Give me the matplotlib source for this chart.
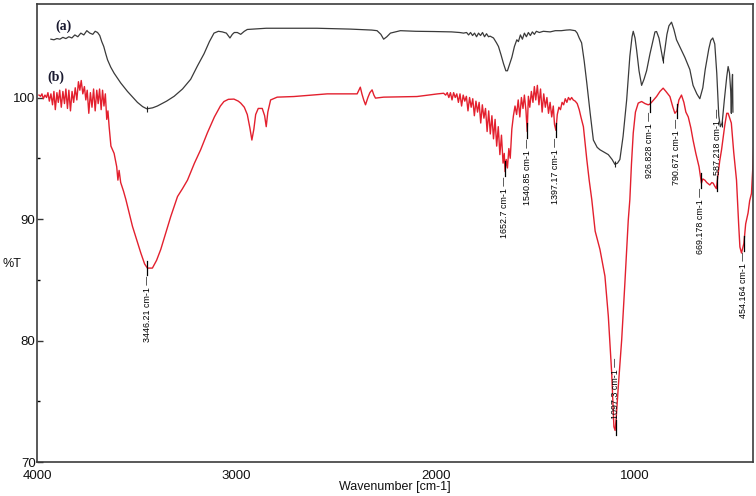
import matplotlib
matplotlib.use("Agg")
import matplotlib.pyplot as plt
import numpy as np

# ---------------- data ----------------
# spectrum (a) : wavenumber, %T
a_wn = [3930, 3915, 3900, 3885, 3870, 3855, 3840, 3825, 3810, 3795, 3780, 3765, 3750, 3735,
        3720, 3708, 3696, 3685, 3675, 3665, 3655, 3646, 3630, 3613, 3580, 3546, 3496, 3470,
        3449, 3420, 3396, 3350, 3312, 3270, 3229, 3195, 3162, 3135, 3112, 3090, 3070, 3050,
        3032, 3020, 3010, 2995, 2978, 2960, 2945, 2900, 2850, 2762, 2595, 2428, 2320, 2294,
        2275, 2261, 2245, 2227, 2177, 2100, 2010, 1920, 1880, 1860, 1845, 1835, 1825, 1815,
        1805, 1795, 1785, 1775, 1765, 1755, 1745, 1735, 1727, 1710, 1695, 1685, 1672, 1660,
        1648, 1640, 1630, 1618, 1605, 1593, 1585, 1575, 1565, 1555, 1545, 1535, 1525, 1515,
        1505, 1495, 1480, 1460, 1426, 1400, 1370, 1345, 1326, 1300, 1290, 1280, 1268, 1255,
        1242, 1225, 1209, 1190, 1176, 1155, 1134, 1115, 1101, 1088, 1076, 1060, 1042, 1026,
        1015, 1009, 1000, 992, 980, 967, 955, 942, 925, 909, 900, 892, 880, 870, 859, 850,
        840, 830, 817, 805, 792, 770, 750, 725, 709, 690, 675, 660, 648, 630, 620, 610, 600,
        590, 580, 572, 563, 552, 540, 533, 526, 520, 517, 514, 511, 509]
a_t = [104.8, 104.75, 104.85, 104.8, 104.95, 104.85, 105.0, 104.9, 105.15, 105.0, 105.3, 105.15,
       105.5, 105.3, 105.2, 105.45, 105.35, 105.1, 104.6, 104.2, 103.6, 103.1, 102.5, 102.0,
       101.2, 100.5, 99.6, 99.25, 99.07, 99.15, 99.3, 99.7, 100.1, 100.7, 101.5, 102.6, 103.6,
       104.6, 105.3, 105.45, 105.4, 105.3, 104.9, 105.2, 105.35, 105.35, 105.2, 105.45, 105.6,
       105.65, 105.7, 105.7, 105.7, 105.63, 105.55, 105.5, 105.2, 104.8, 105.0, 105.3, 105.5,
       105.45, 105.43, 105.4, 105.35, 105.3, 105.35, 105.15, 105.35, 105.1, 105.3, 105.0, 105.3,
       105.1, 105.35, 105.0, 105.25, 105.0, 105.05, 104.9, 104.5, 104.2, 103.5, 102.8, 102.2,
       102.2, 102.7, 103.3, 104.2, 104.75, 104.6, 105.15, 104.8, 105.3, 105.0, 105.35, 105.1,
       105.4, 105.2, 105.45, 105.35, 105.45, 105.4, 105.5, 105.5, 105.55, 105.57, 105.5, 105.3,
       104.9, 104.5, 103.0, 101.2, 98.7, 96.5, 95.9, 95.7, 95.5, 95.3, 94.9, 94.5, 94.6, 94.9,
       96.8, 99.8, 103.4, 105.0, 105.45, 104.9, 103.9, 102.2, 101.0, 101.5, 102.2, 103.6,
       104.75, 105.4, 105.43, 104.9, 104.0, 103.0, 104.0, 105.2, 105.9, 106.2, 105.6, 104.75,
       104.0, 103.3, 102.3, 101.0, 100.3, 99.9, 100.8, 102.3, 104.0, 104.7, 104.9, 104.4,
       102.0, 98.5, 97.6, 97.9, 99.8, 101.7, 102.55, 102.0, 100.5, 98.7, 101.0, 101.9, 98.8]

# spectrum (b) : wavenumber, %T
b_wn = [3990, 3982, 3975, 3968, 3960, 3952, 3945, 3938, 3930, 3922, 3915, 3908, 3900, 3893,
        3886, 3878, 3870, 3862, 3855, 3847, 3840, 3832, 3824, 3816, 3808, 3800, 3792, 3785,
        3778, 3770, 3762, 3755, 3748, 3740, 3732, 3724, 3716, 3708, 3700, 3693, 3686, 3678,
        3671, 3664, 3657, 3650, 3644, 3638, 3629, 3613, 3600, 3594, 3588, 3580, 3566, 3554,
        3521, 3500, 3479, 3460, 3446, 3421, 3400, 3379, 3355, 3329, 3295, 3270, 3245, 3210,
        3179, 3145, 3110, 3080, 3062, 3040, 3012, 2990, 2978, 2960, 2945, 2932, 2922, 2912,
        2903, 2890, 2870, 2858, 2850, 2842, 2828, 2795, 2712, 2544, 2394, 2378, 2370, 2361,
        2352, 2340, 2330, 2319, 2310, 2302, 2261, 2094, 1990, 1960, 1950, 1942, 1934, 1926,
        1918, 1910, 1902, 1894, 1886, 1878, 1870, 1862, 1854, 1846, 1838, 1830, 1822, 1814,
        1806, 1798, 1790, 1782, 1774, 1766, 1758, 1750, 1742, 1734, 1726, 1718, 1710, 1702,
        1694, 1686, 1678, 1670, 1662, 1656, 1652, 1646, 1640, 1633, 1626, 1618, 1610, 1602,
        1594, 1586, 1578, 1570, 1562, 1555, 1547, 1541, 1535, 1528, 1520, 1512, 1505, 1498,
        1490, 1482, 1474, 1466, 1458, 1450, 1442, 1434, 1426, 1418, 1410, 1404, 1397, 1390,
        1382, 1374, 1366, 1358, 1350, 1342, 1334, 1326, 1318, 1310, 1300, 1290, 1280, 1270,
        1259, 1250, 1242, 1230, 1217, 1200, 1176, 1151, 1134, 1117, 1106, 1100, 1095, 1084,
        1067, 1051, 1034, 1026, 1018, 1009, 998, 984, 967, 950, 934, 926, 912, 892, 875, 859,
        845, 825, 810, 800, 790, 780, 767, 755, 745, 733, 720, 709, 695, 679, 672, 667, 660,
        650, 640, 625, 615, 608, 600, 592, 585, 575, 566, 550, 540, 533, 525, 517, 505, 491,
        480, 474, 466, 460, 454, 445, 433, 425, 416, 408, 404]
b_t = [100.2, 100.1, 100.3, 99.9, 100.2, 100.0, 100.4, 99.7, 100.3, 99.4, 100.5, 99.0, 100.4,
       99.6, 100.6, 99.2, 100.5, 99.5, 100.7, 99.1, 100.6, 98.9, 100.5, 99.6, 100.8, 99.8, 101.3,
       100.6, 101.4, 100.3, 100.9, 99.8, 100.6, 98.7, 100.4, 99.2, 100.7, 98.9, 100.6, 99.5,
       100.7, 99.0, 100.6, 99.3, 100.3, 98.2, 98.9, 97.6, 96.0, 95.4, 94.3, 93.2, 94.0, 93.0,
       92.3, 91.6, 89.4, 88.3, 87.2, 86.3, 85.96, 85.96, 86.6, 87.5, 88.8, 90.2, 91.85, 92.5,
       93.2, 94.6, 95.7, 97.1, 98.4, 99.3, 99.67, 99.85, 99.87, 99.7, 99.54, 99.2, 98.6, 97.5,
       96.5, 97.4, 98.6, 99.1, 99.1, 98.5, 97.6, 98.8, 99.8, 100.03, 100.08, 100.3, 100.3,
       100.85, 100.3, 99.8, 99.4, 100.0, 100.4, 100.63, 100.2, 99.95, 100.03, 100.08, 100.3,
       100.35, 100.2, 100.4, 100.0, 100.4, 99.8, 100.4, 100.0, 100.3, 99.6, 100.3, 99.3, 100.2,
       99.7, 100.1, 98.9, 100.0, 99.2, 99.9, 98.5, 99.7, 98.8, 99.6, 97.9, 99.4, 98.3, 99.1,
       97.2, 98.9, 97.0, 98.5, 96.6, 98.2, 96.0, 97.6, 95.3, 96.9, 94.6, 95.4, 93.9, 94.9, 94.2,
       95.8, 95.0, 97.4, 98.5, 99.3, 98.6, 99.8, 98.4, 100.0, 99.1, 100.2, 98.9, 97.2, 100.1,
       99.2, 100.5, 99.6, 100.9, 99.8, 101.0, 99.4, 100.7, 98.8, 100.3, 99.2, 100.0, 98.7, 99.6,
       98.4, 99.3, 97.8, 97.3, 98.6, 99.2, 99.0, 99.6, 99.4, 99.9, 99.6, 100.0, 99.8, 100.0,
       99.8, 99.7, 99.5, 99.0, 98.3, 97.6, 96.2, 94.9, 93.2, 91.6, 89.0, 87.5, 85.3, 82.0, 77.3,
       72.9, 72.6, 73.5, 76.2, 80.05, 84.7, 89.9, 91.6, 94.5, 97.07, 98.8, 99.54, 99.67, 99.5,
       99.4, 99.45, 99.7, 100.08, 100.5, 100.77, 100.5, 100.08, 99.2, 98.7, 98.9, 99.8, 100.2,
       99.6, 98.8, 98.4, 97.5, 96.5, 95.4, 94.3, 93.5, 92.95, 93.3, 93.2, 93.0, 92.8, 93.0,
       92.95, 92.7, 92.5, 93.5, 94.8, 95.7, 97.7, 98.7, 98.7, 98.3, 97.9, 95.5, 93.2, 89.5,
       87.7, 87.2, 87.6, 88.0, 89.6, 90.5, 91.5, 92.1, 94.6, 96.3]

# peak markers on (a)
a_marks = [3446, 1101, 860, 566]

# peak labels on (b)
peak_wn = [3446.21, 1652.7, 1540.85, 1397.17, 1097.3, 926.828, 790.671, 669.178, 587.218, 454.164]
peak_text = ["3446.21 cm-1", "1652.7 cm-1", "1540.85 cm-1", "1397.17 cm-1", "1097.3 cm-1",
             "926.828 cm-1", "790.671 cm-1", "669.178 cm-1", "587.218 cm-1", "454.164 cm-1"]
peak_above = [False, False, False, False, True, False, False, False, True, False]

y_ticks = [70, 80, 90, 100]
y_minor = [75, 85, 95]
x_ticks = [4000, 3000, 2000, 1000]

# ---------------- plot ----------------
plt.rcParams['font.serif'] = ['Liberation Serif', 'DejaVu Serif']
tick_font = ['Liberation Sans', 'DejaVu Sans']
fig = plt.figure(figsize=(7.56, 4.96), dpi=100)
ax = fig.add_axes([0.0489, 0.0685, 0.9472, 0.9228])

red = '#e3202e'
dark = '#3a3a3a'
ax.plot(a_wn, a_t, color=dark, lw=0.9)
ax.plot(b_wn, b_t, color=red, lw=1.0)

a_mark_t = np.interp(a_marks, a_wn[::-1], a_t[::-1])
ax.plot(a_marks, a_mark_t, ls='none', marker='|', ms=5, mew=0.8, color='#222222')

b_wn_r = b_wn[::-1]
b_t_r = b_t[::-1]
for wn, txt, above in zip(peak_wn, peak_text, peak_above):
    yp = np.interp(wn, b_wn_r, b_t_r)
    if above:
        ax.plot([wn, wn], [yp - 0.85, yp + 0.35], color='black', lw=0.9)
        ax.text(wn, yp + 0.45, txt + ' \u2014', rotation=90, ha='center', va='bottom',
                fontsize=6.4, family=['Liberation Sans', 'DejaVu Sans'], color='black')
    else:
        ax.plot([wn, wn], [yp + 0.6, yp - 0.6], color='black', lw=0.9)
        ax.text(wn, yp - 0.65, txt + ' \u2014', rotation=90, ha='center', va='top',
                fontsize=6.4, family=['Liberation Sans', 'DejaVu Sans'], color='black')

ax.text(3867, 105.9, '(a)', fontsize=10, fontweight='bold', family='serif',
        color='#1a1a30', ha='center', va='center')
ax.text(3905, 101.66, '(b)', fontsize=10, fontweight='bold', family='serif',
        color='#1a1a30', ha='center', va='center')

ax.set_xlim(4000, 408)
ax.set_ylim(70, 107.67)
ax.set_xticks(x_ticks)
ax.set_xticklabels([str(v) for v in x_ticks])
ax.set_yticks(y_ticks)
ax.set_yticklabels([str(v) for v in y_ticks])
ax.set_yticks(y_minor, minor=True)
ax.tick_params(axis='y', which='major', direction='in', length=4, width=1.0, pad=1,
               labelsize=9.5, colors='#333333')
ax.tick_params(axis='y', which='minor', direction='in', length=2.5, width=1.0)
ax.tick_params(axis='x', which='both', length=0, pad=5.5, labelsize=9.5, colors='#222222')
for lab in ax.get_xticklabels() + ax.get_yticklabels():
    lab.set_family(tick_font)
    lab.set_color('#111111')

for s in ax.spines.values():
    s.set_color('#3c3c3c')
    s.set_linewidth(1.2)

ax.set_xlabel('Wavenumber [cm-1]', fontsize=9, family=tick_font, color='#111111')
ax.xaxis.set_label_coords(0.5, -0.042)
ax.set_ylabel('%T', rotation=0, fontsize=9, family=tick_font, color='#111111')
ax.yaxis.set_label_coords(-0.035, 0.42)

fig.savefig('out.png', dpi=100)
